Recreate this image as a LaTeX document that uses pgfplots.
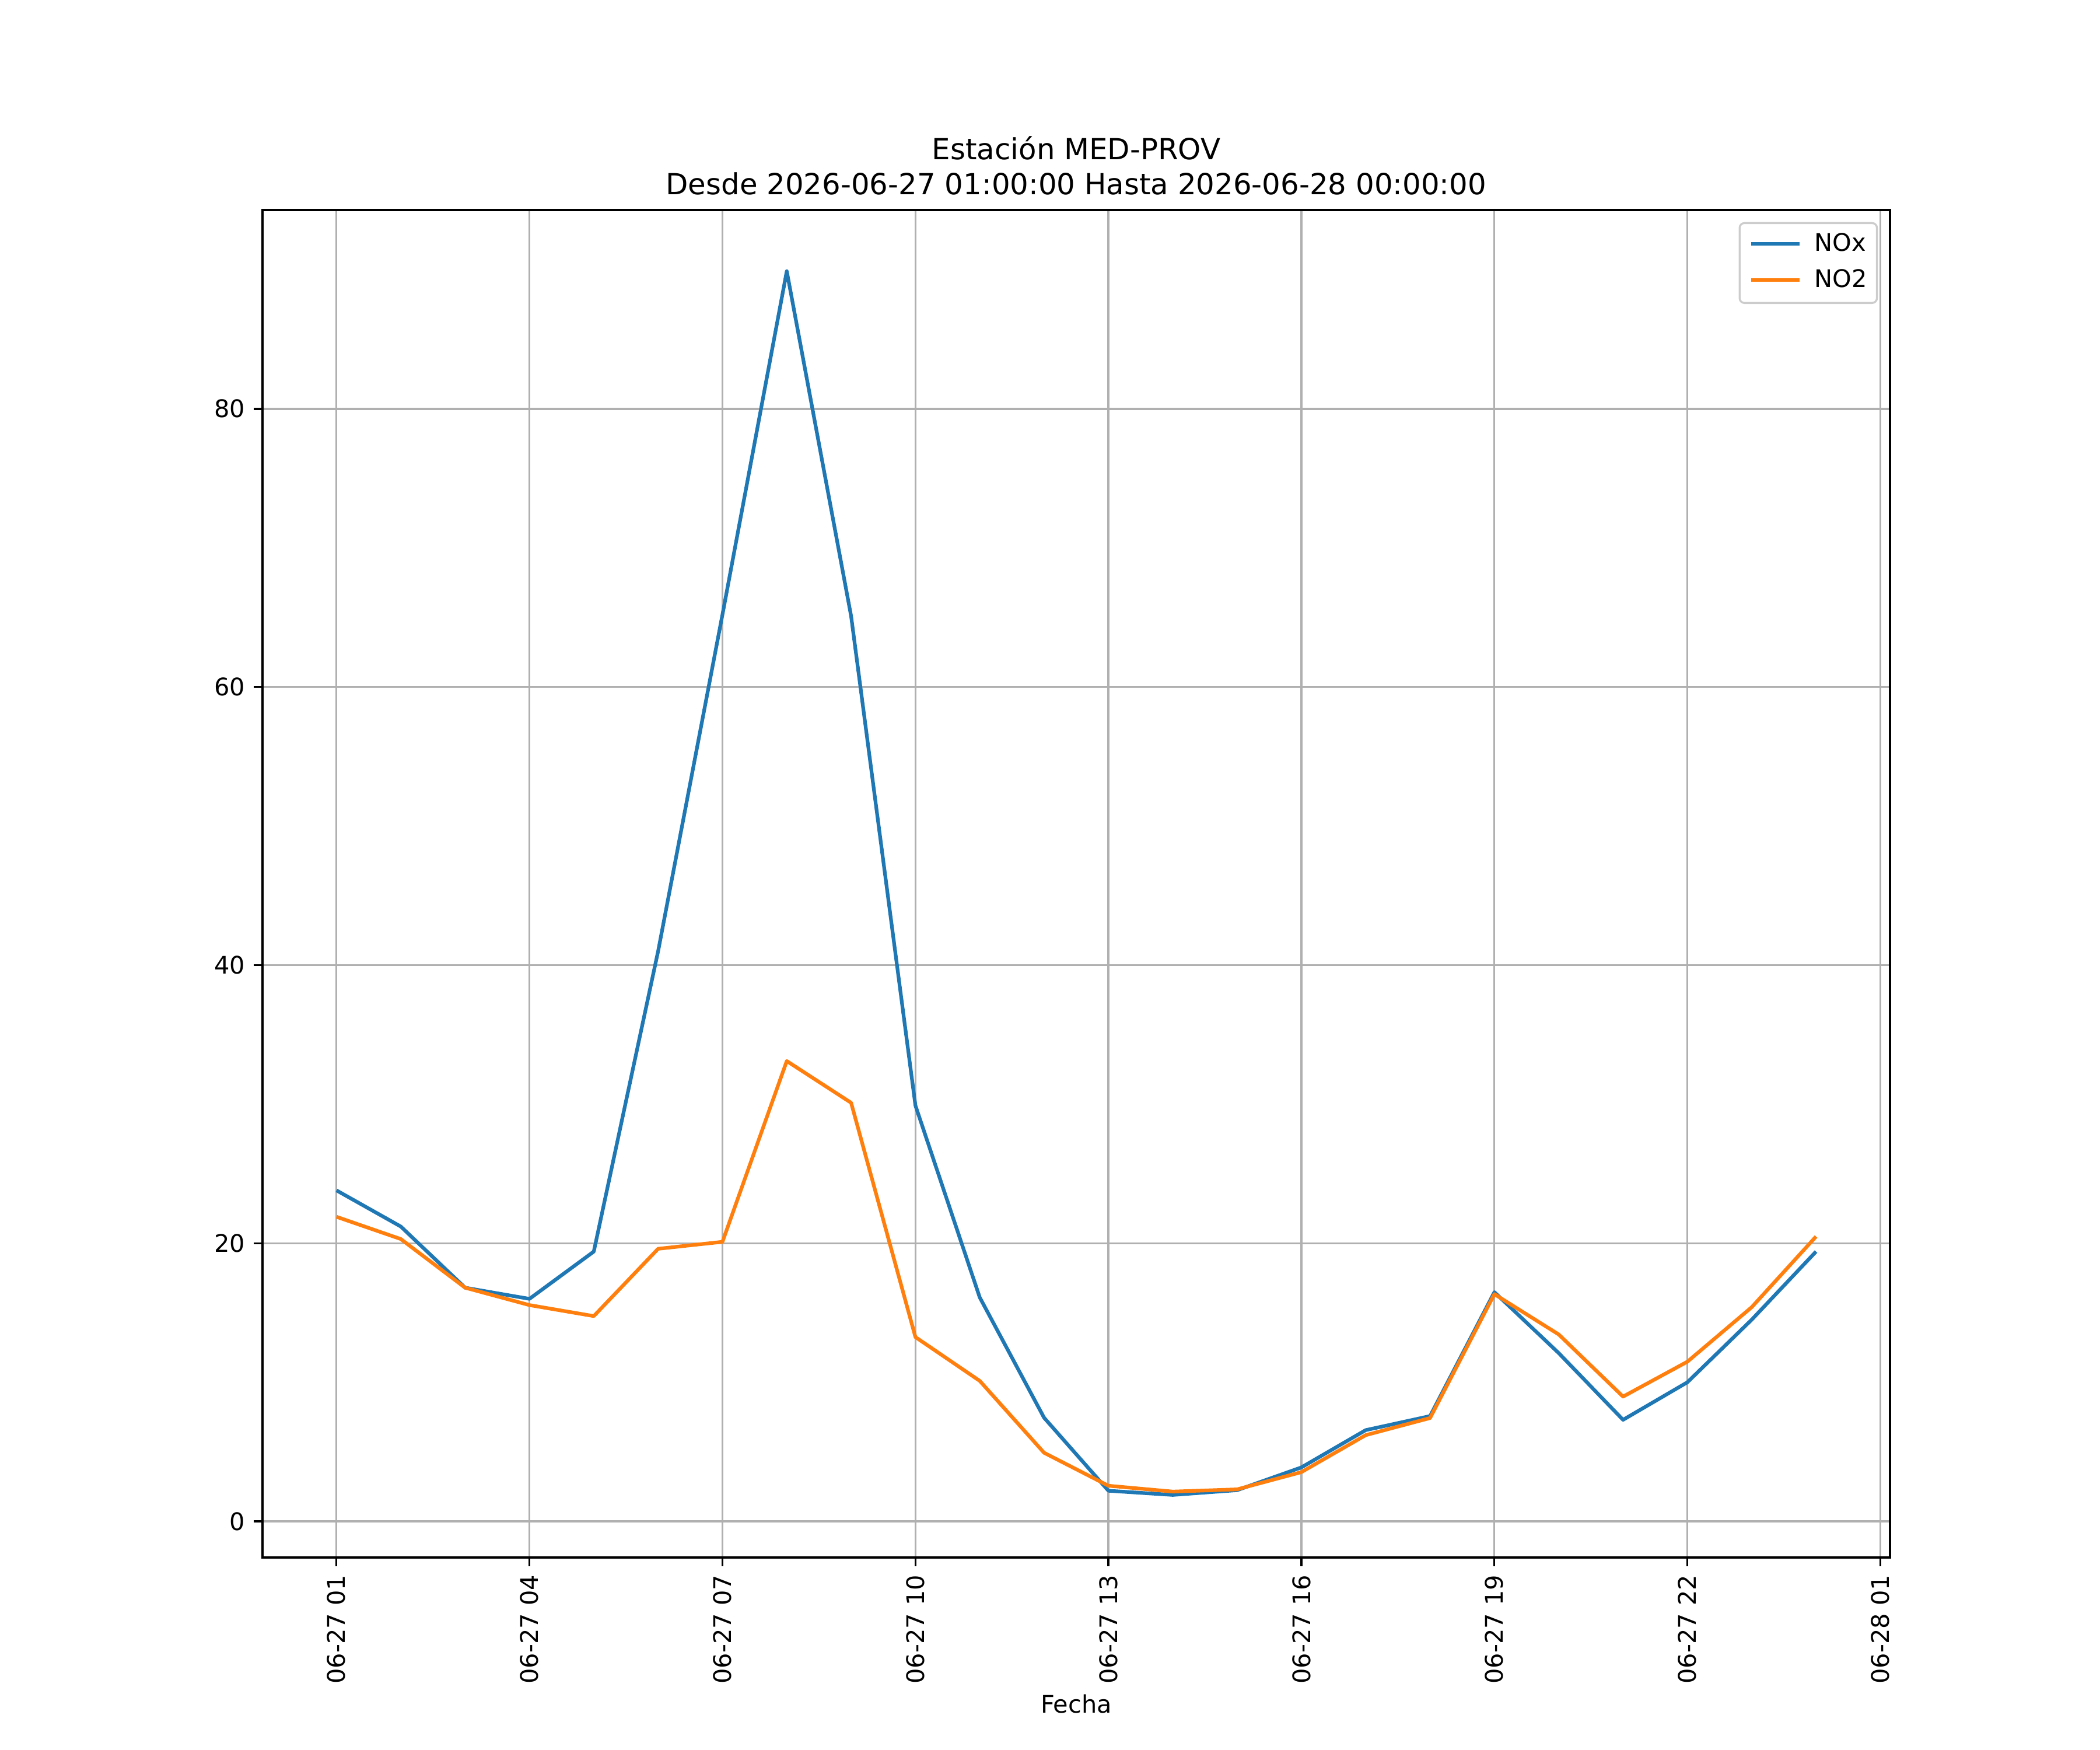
\documentclass[border=0pt]{standalone}
\usepackage{fontspec}
\setmainfont{DejaVu Sans}
\usepackage{pgfplots}
\pgfplotsset{compat=1.18}
\definecolor{tabblue}{HTML}{1F77B4}
\definecolor{taborange}{HTML}{FF7F0E}
\definecolor{gridgray}{HTML}{B0B0B0}
\begin{document}
\begin{tikzpicture}
\useasboundingbox (0,0) rectangle (12in,10in);
\begin{axis}[
  at={(1.5in,1.1in)}, anchor=south west,
  scale only axis, width=9.3in, height=7.7in,
  xmin=-0.15, xmax=25.15, ymin=-2.6, ymax=94.3,
  xtick={1,4,7,10,13,16,19,22,25},
  xticklabels={06-27 01,06-27 04,06-27 07,06-27 10,06-27 13,06-27 16,06-27 19,06-27 22,06-28 01},
  ytick={0,20,40,60,80},
  xtick pos=bottom, ytick pos=left,
  /pgf/number format/assume math mode=true,
  tick align=outside,
  major tick length=3.5pt,
  every tick/.style={black, line width=0.8pt},
  axis line style={line width=0.8pt, black},
  grid=major,
  major grid style={gridgray, line width=0.8pt},
  xticklabel style={rotate=90, anchor=east, inner sep=0pt, font=\fontsize{10}{12}\selectfont},
  yticklabel style={anchor=east, inner sep=0pt, font=\fontsize{10}{12}\selectfont},
  xticklabel shift=3.5pt,
  yticklabel shift=3.5pt,
  xlabel={Fecha},
  every axis x label/.style={at={(0.5,0)}, anchor=north, inner sep=0pt, yshift=-56.5pt, font=\fontsize{10}{12}\selectfont},
  title={Estación MED-PROV\\Desde 2026-06-27 01:00:00 Hasta 2026-06-28 00:00:00},
  every axis title/.style={at={(0.5,1)}, anchor=south, inner sep=0pt, yshift=6pt, align=center, font=\fontsize{12}{14.4}\selectfont},
  legend style={at={(1,1)}, anchor=north east, xshift=-5pt, yshift=-5pt,
    draw=white!80!black, line width=0.8pt, rounded corners=2pt, fill=white,
    inner xsep=4pt, inner ysep=4pt, row sep=5pt,
    font=\fontsize{10}{12}\selectfont,
    nodes={inner sep=0pt, text height=7.6pt, text depth=2.4pt, anchor=base west},
    /tikz/every odd column/.append style={column sep=5.5pt}},
  legend cell align=left,
  legend image code/.code={\draw[#1, line width=1.5pt] (0pt,3pt) -- (20pt,3pt);},
]
\addplot[tabblue, line width=1.5pt, line join=round] coordinates {
(1,23.8) (2,21.2) (3,16.8) (4,16.0) (5,19.4) (6,41.0) (7,65.2) (8,89.9)
(9,65.1) (10,29.9) (11,16.1) (12,7.45) (13,2.2) (14,1.9) (15,2.24) (16,3.88)
(17,6.56) (18,7.57) (19,16.48) (20,12.1) (21,7.3) (22,10.0) (23,14.5) (24,19.4)
};
\addlegendentry{NOx}
\addplot[taborange, line width=1.5pt, line join=round] coordinates {
(1,21.9) (2,20.3) (3,16.8) (4,15.55) (5,14.76) (6,19.6) (7,20.1) (8,33.1)
(9,30.1) (10,13.25) (11,10.1) (12,4.93) (13,2.56) (14,2.14) (15,2.3) (16,3.54)
(17,6.2) (18,7.43) (19,16.34) (20,13.44) (21,8.97) (22,11.48) (23,15.4) (24,20.48)
};
\addlegendentry{NO2}
\end{axis}
\end{tikzpicture}
\end{document}
